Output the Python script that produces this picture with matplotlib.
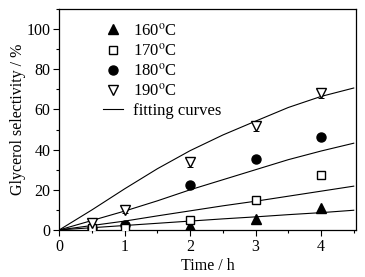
import matplotlib
matplotlib.use("Agg")
import matplotlib.pyplot as plt
from matplotlib.ticker import MultipleLocator

plt.rcParams['font.family'] = ['Liberation Serif', 'DejaVu Serif']
plt.rcParams['mathtext.fontset'] = 'stix'

# measured data
t_pts = [0.5, 1, 2, 3, 4]
sel_160 = [0.5, 1.0, 2.0, 5.3, 10.8]
sel_170 = [1.0, 1.0, 5.0, 14.7, 27.5]
sel_180 = [1.0, 2.5, 22.5, 35.5, 46.2]
sel_190 = [3.2, 9.8, 33.7, 51.6, 68.3]
err_170 = [0.5, 0.5, 1.0, 1.0, 1.5]
err_190 = [1.5, 1.5, 2.5, 2.5, 2.5]

# fitting curves
t_fit = [0, 0.5, 1, 1.5, 2, 2.5, 3, 3.5, 4, 4.5]
fit_160 = [0, 1.1, 2.2, 3.3, 4.4, 5.5, 6.5, 7.6, 8.6, 9.8]
fit_170 = [0, 2.2, 4.4, 7.0, 9.5, 12.0, 14.3, 16.8, 19.3, 21.8]
fit_180 = [0, 4.7, 9.4, 14.5, 20.0, 25.0, 30.0, 35.0, 39.3, 43.2]
fit_190 = [0, 10.0, 20.5, 30.5, 39.5, 47.3, 54.2, 61.0, 66.5, 70.7]

labels = [r'160$^{\rm o}$C', r'170$^{\rm o}$C', r'180$^{\rm o}$C', r'190$^{\rm o}$C']

fig = plt.figure(figsize=(3.65, 2.77), dpi=100)
ax = fig.add_axes([0.1625, 0.170, 0.812, 0.797])

lw = 0.8
for f in (fit_160, fit_170, fit_180, fit_190):
    ax.plot(t_fit, f, color='black', lw=lw, zorder=2)

ax.plot(t_pts, sel_160, linestyle='none', marker='^', ms=6.5, color='black', zorder=3)
ax.errorbar(t_pts, sel_170, yerr=err_170, fmt='s', ms=5.5, mfc='white', mec='black',
            ecolor='black', elinewidth=0.7, capsize=2, capthick=0.7, zorder=3)
ax.plot(t_pts, sel_180, linestyle='none', marker='o', ms=6.5, color='black', zorder=3)
ax.errorbar(t_pts, sel_190, yerr=err_190, fmt='v', ms=7, mfc='white', mec='black',
            ecolor='black', elinewidth=0.7, capsize=2, capthick=0.7, zorder=3)

# legend handles
h1, = ax.plot([], [], linestyle='none', marker='^', ms=6.5, color='black')
h2, = ax.plot([], [], linestyle='none', marker='s', ms=5.5, mfc='white', mec='black')
h3, = ax.plot([], [], linestyle='none', marker='o', ms=6.5, color='black')
h4, = ax.plot([], [], linestyle='none', marker='v', ms=7, mfc='white', mec='black')
h5, = ax.plot([], [], color='black', lw=lw)
ax.legend([h1, h2, h3, h4, h5], labels + ['fitting curves'], loc='upper left',
          bbox_to_anchor=(0.125, 0.97), frameon=False, fontsize=12,
          handlelength=1.2, handletextpad=0.6, labelspacing=0.2, borderaxespad=0)

ax.set_xlim(0, 4.53)
ax.set_ylim(0, 110)
ax.xaxis.set_major_locator(MultipleLocator(1))
ax.xaxis.set_minor_locator(MultipleLocator(0.5))
ax.yaxis.set_major_locator(MultipleLocator(20))
ax.yaxis.set_minor_locator(MultipleLocator(10))
ax.set_yticks([0, 20, 40, 60, 80, 100])
ax.tick_params(which='major', direction='out', length=4, width=0.8, labelsize=11.5, pad=2.5)
ax.tick_params(which='minor', direction='out', length=2.5, width=0.8)
for s in ax.spines.values():
    s.set_linewidth(0.9)

ax.set_xlabel('Time / h', fontsize=11.5, labelpad=2)
ax.set_ylabel('Glycerol selectivity / %', fontsize=11.5)
ax.yaxis.set_label_coords(-0.112, 0.5)

fig.savefig('out.png', dpi=100)
